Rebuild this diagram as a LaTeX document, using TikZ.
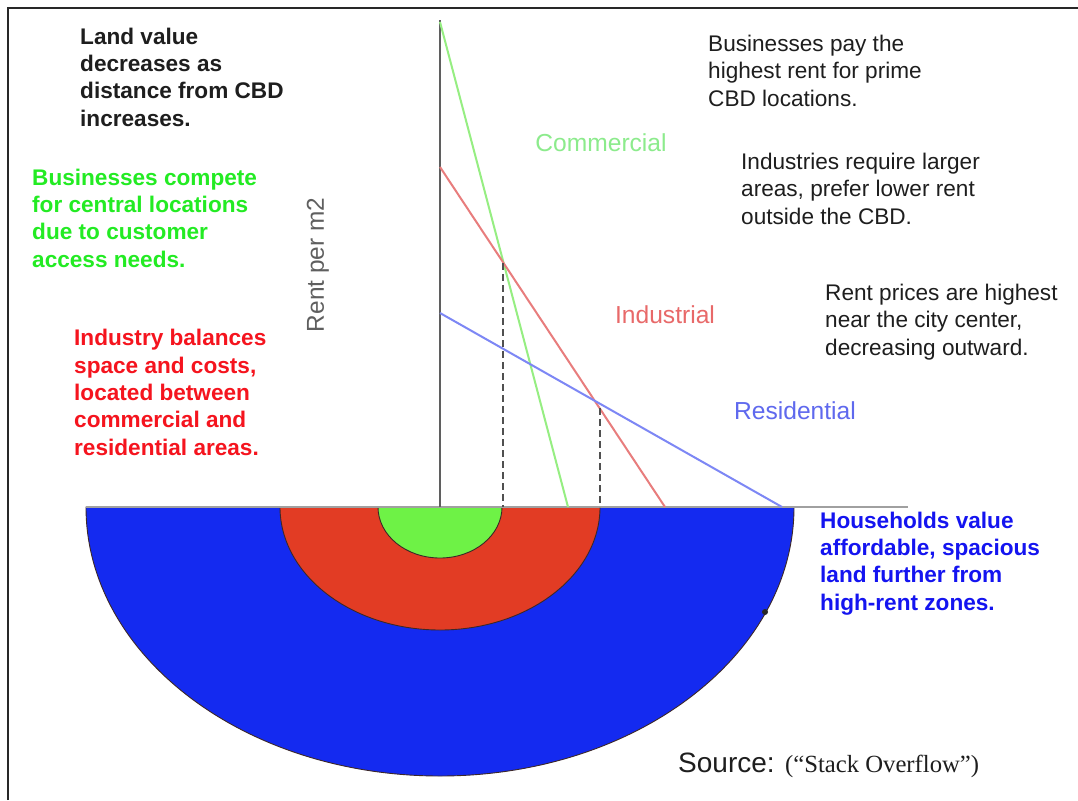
\documentclass[tikz,border=0pt]{standalone}
\usepackage{fontspec}
\setmainfont{Liberation Sans}
\newfontfamily\srcserif{Liberation Serif}
\definecolor{framec}{RGB}{40,40,40}
\definecolor{inkc}{RGB}{30,30,30}
\definecolor{axisc}{RGB}{95,95,95}
\definecolor{baseaxis}{RGB}{160,160,160}
\definecolor{dashc}{RGB}{80,80,80}
\definecolor{zoneblue}{RGB}{20,42,240}
\definecolor{zonered}{RGB}{226,60,36}
\definecolor{zonegreen}{RGB}{110,242,70}
\definecolor{zoneedge}{RGB}{60,40,40}
\definecolor{comline}{RGB}{150,238,130}
\definecolor{indline}{RGB}{232,125,125}
\definecolor{resline}{RGB}{125,135,245}
\definecolor{comlab}{RGB}{140,235,140}
\definecolor{indlab}{RGB}{232,105,105}
\definecolor{reslab}{RGB}{95,105,238}
\definecolor{notegreen}{RGB}{35,235,35}
\definecolor{notered}{RGB}{245,20,30}
\definecolor{noteblue}{RGB}{20,20,240}
\tikzset{
  % multi-line notes are placed by the baseline of their last line
  note/.style={align=left, inner sep=0pt, anchor=base west, text=inkc,
    font=\fontsize{22.6}{27.3}\selectfont},
  boldnote/.style={note, font=\fontsize{22.6}{27.3}\selectfont\bfseries},
  curvelabel/.style={inner sep=0pt, font=\fontsize{24.6}{28}\selectfont},
  rentline/.style={line width=2pt},
  zone/.style={draw=zoneedge, line width=0.9pt},
  guide/.style={draw=dashc, line width=2.2pt, dash pattern=on 7pt off 4pt}
}
\begin{document}
\begin{tikzpicture}[x=1pt,y=-1pt]
\useasboundingbox (0,0) rectangle (1078,800);
\fill[white] (0,0) rectangle (1078,800);

% frame along the top and left
\draw[framec, line width=2.6pt] (8,800) -- (8,8) -- (1078,8);

% land-use zones around the CBD
\filldraw[zone, fill=zoneblue] (86,507) arc[start angle=180, end angle=360, x radius=354pt, y radius=269pt] -- cycle;
\filldraw[zone, fill=zonered] (280,507) arc[start angle=180, end angle=360, x radius=160pt, y radius=123pt] -- cycle;
\filldraw[zone, fill=zonegreen] (378,507) arc[start angle=180, end angle=360, x radius=62pt, y radius=51pt] -- cycle;
\fill[framec] (765,612) circle[radius=3pt];

% axes
\coordinate (origin) at (440,507);
\coordinate (ytop) at (440,20);
\coordinate (xleft) at (86,507);
\coordinate (xright) at (908,507);
\draw[baseaxis, line width=1.5pt] (xleft) -- (xright);
\draw[axisc, line width=2pt] (origin) -- (ytop);

% bid-rent curves
\coordinate (c0) at (440,22);   \coordinate (c1) at (568,507);
\coordinate (i0) at (440,167);  \coordinate (i1) at (665,507);
\coordinate (r0) at (440,313);  \coordinate (r1) at (782,507);
\draw[rentline, comline] (c0) -- (c1);
\draw[rentline, indline] (i0) -- (i1);
\draw[rentline, resline] (r0) -- (r1);

% zone boundaries dropped to the distance axis
\coordinate (g0) at (503,263); \coordinate (g1) at (503,507);
\coordinate (h0) at (600,408); \coordinate (h1) at (600,507);
\draw[guide] (g0) -- (g1);
\draw[guide] (h0) -- (h1);

% curve labels
\node[curvelabel, text=comlab] (comm) at (601,143) {Commercial};
\node[curvelabel, text=indlab] (indu) at (665,315) {Industrial};
\node[curvelabel, text=reslab] (resi) at (795,411) {Residential};
\node[curvelabel, text=axisc, rotate=90, font=\fontsize{24.4}{28}\selectfont] (ylab) at (318,265) {Rent per m2};

% notes on the left
\node[boldnote] (landvalue) at (80,126) {Land value\\decreases as\\distance from CBD\\increases.};
\node[boldnote, text=notegreen] (business) at (32,267) {Businesses compete\\for central locations\\due to customer\\access needs.};
\node[boldnote, text=notered] (industry) at (74,455) {Industry balances\\space and costs,\\located between\\commercial and\\residential areas.};

% notes on the right
\node[boldnote, text=noteblue] (house) at (820,610) {Households value\\affordable, spacious\\land further from\\high-rent zones.};
\node[note] (paynote) at (708,106) {Businesses pay the\\highest rent for prime\\CBD locations.};
\node[note] (indnote) at (741,224) {Industries require larger\\areas, prefer lower rent\\outside the CBD.};
\node[note] (rentnote) at (825,355) {Rent prices are highest\\near the city center,\\decreasing outward.};

% source
\node[inner sep=0pt, anchor=base west, text=inkc] (source) at (678,772)
  {{\fontsize{28}{30}\selectfont Source: }{\srcserif\fontsize{24.7}{28}\selectfont (“Stack Overflow”)}};
\end{tikzpicture}
\end{document}
